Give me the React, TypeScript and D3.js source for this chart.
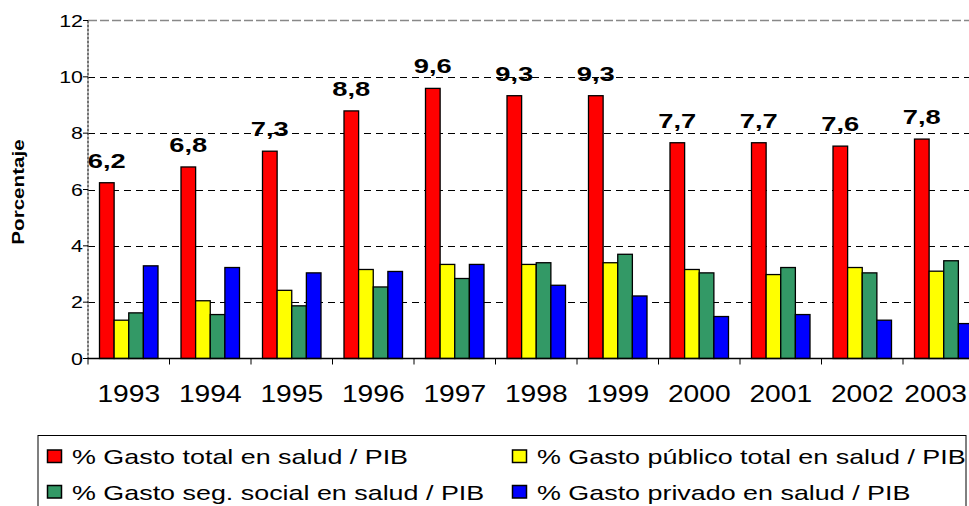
import React, {useEffect, useRef} from 'react';
import * as d3 from 'd3';

// years on the x axis
const years: string[] = ["1993", "1994", "1995", "1996", "1997", "1998", "1999", "2000", "2001", "2002", "2003"];

// series values (percent of GDP)
const gastoTotal: number[] = [6.24, 6.8, 7.36, 8.79, 9.59, 9.33, 9.33, 7.66, 7.66, 7.54, 7.79];
const gastoPublico: number[] = [1.36, 2.05, 2.42, 3.16, 3.34, 3.34, 3.4, 3.16, 2.98, 3.23, 3.1];
const gastoSegSocial: number[] = [1.62, 1.56, 1.87, 2.54, 2.84, 3.4, 3.7, 3.04, 3.23, 3.04, 3.47];
const gastoPrivado: number[] = [3.29, 3.23, 3.04, 3.09, 3.34, 2.6, 2.22, 1.49, 1.56, 1.36, 1.24];

// labels shown above the red bars
const totalLabels: string[] = ["6,2", "6,8", "7,3", "8,8", "9,6", "9,3", "9,3", "7,7", "7,7", "7,6", "7,8"];

const seriesNames: string[] = [
  "% Gasto total en salud / PIB",
  "% Gasto público total en salud / PIB",
  "% Gasto seg. social en salud / PIB",
  "% Gasto privado en salud / PIB",
];

const yTicks: number[] = [0, 2, 4, 6, 8, 10, 12];

const App = () => {
  const ref = useRef<SVGSVGElement | null>(null);

  useEffect(() => {
    drawChart();
    return () => {
      d3.select(ref.current).selectAll("*").remove();
    };
  }, []);

  const drawChart = () => {
    const width = 969;
    const height = 506;
    const font = "'Liberation Sans', Arial, sans-serif";
    const colors = ["#ff0000", "#ffff00", "#339966", "#0000ff"];
    const allSeries = [gastoTotal, gastoPublico, gastoSegSocial, gastoPrivado];

    // plot area (runs a little past the right edge, like the original crop)
    const left = 88;
    const right = 984.5;
    const top = 20.5;
    const bottom = 358.5;

    const svg = d3.select(ref.current)
      .attr("width", width)
      .attr("height", height);

    svg.append("rect").attr("width", width).attr("height", height).attr("fill", "white");

    const x0 = d3.scaleBand<string>().domain(years).range([left, right]);
    const x1 = d3.scaleBand<number>()
      .domain([0, 1, 2, 3])
      .range([11.5, x0.bandwidth() - 11.5]);
    const y = d3.scaleLinear().domain([0, 12]).range([bottom, top]);

    // grid lines
    svg.append("g")
      .selectAll("line")
      .data(yTicks.filter(t => t > 0 && t < 12))
      .enter().append("line")
      .attr("x1", left).attr("x2", right)
      .attr("y1", d => Math.round(y(d)) + 0.5)
      .attr("y2", d => Math.round(y(d)) + 0.5)
      .attr("stroke", "#000")
      .attr("stroke-dasharray", "7,5");

    // top border, grey dashes
    svg.append("line")
      .attr("x1", left).attr("x2", right)
      .attr("y1", y(12)).attr("y2", y(12))
      .attr("stroke", "#888")
      .attr("stroke-width", 1.5)
      .attr("stroke-dasharray", "9,3");

    // bars
    const groups = svg.append("g")
      .selectAll("g")
      .data(years)
      .enter().append("g")
      .attr("transform", d => `translate(${x0(d)},0)`);

    groups.selectAll("rect")
      .data((d, i) => allSeries.map((s, k) => ({k, v: s[i]})))
      .enter().append("rect")
      .attr("x", d => x1(d.k) as number)
      .attr("y", d => y(d.v))
      .attr("width", x1.bandwidth())
      .attr("height", d => y(0) - y(d.v))
      .attr("fill", d => colors[d.k])
      .attr("stroke", "#000")
      .attr("stroke-width", 1.3);

    // value labels above red bars (text is drawn wide, as in the original)
    svg.append("g")
      .selectAll("text")
      .data(years)
      .enter().append("text")
      .attr("transform", (d, i) => {
        const cx = (x0(d) as number) + (x1(0) as number) + x1.bandwidth() / 2;
        return `translate(${cx},${y(gastoTotal[i]) - 15}) scale(1.4,1)`;
      })
      .attr("text-anchor", "middle")
      .attr("font-family", font)
      .attr("font-weight", "bold")
      .attr("font-size", "19.5px")
      .text((d, i) => totalLabels[i]);

    // left axis
    svg.append("line")
      .attr("x1", left).attr("x2", left)
      .attr("y1", top).attr("y2", bottom)
      .attr("stroke", "#444")
      .attr("stroke-width", 1.5)
      .attr("stroke-dasharray", "3,1");

    svg.append("g")
      .selectAll("line")
      .data(yTicks)
      .enter().append("line")
      .attr("x1", left - 5).attr("x2", left)
      .attr("y1", d => y(d)).attr("y2", d => y(d))
      .attr("stroke", "#000");

    svg.append("g")
      .selectAll("text")
      .data(yTicks)
      .enter().append("text")
      .attr("transform", d => `translate(${left - 5},${y(d) + 6}) scale(1.3,1)`)
      .attr("text-anchor", "end")
      .attr("font-family", font)
      .attr("font-size", "16.5px")
      .text(d => d);

    // bottom axis
    svg.append("line")
      .attr("x1", left).attr("x2", right)
      .attr("y1", bottom).attr("y2", bottom)
      .attr("stroke", "#000")
      .attr("stroke-width", 1.3);

    svg.append("g")
      .selectAll("line")
      .data(years)
      .enter().append("line")
      .attr("x1", d => x0(d) as number).attr("x2", d => x0(d) as number)
      .attr("y1", bottom).attr("y2", bottom + 6)
      .attr("stroke", "#000");

    // year labels; the last one is pushed left so it stays inside the picture
    const xScaleText = 1.2;
    svg.append("g")
      .selectAll("text")
      .data(years)
      .enter().append("text")
      .attr("text-anchor", "middle")
      .attr("font-family", font)
      .attr("font-size", "23.5px")
      .text(d => d)
      .each(function (d) {
        const el = this as SVGTextElement;
        const half = el.getComputedTextLength() * xScaleText / 2;
        let cx = (x0(d) as number) + x0.bandwidth() / 2;
        if (cx + half > width - 2) cx = width - 2 - half;
        d3.select(el).attr("transform", `translate(${cx},402) scale(${xScaleText},1)`);
      });

    // y axis title
    svg.append("text")
      .attr("transform", "translate(24,192) rotate(-90) scale(1.25,1)")
      .attr("text-anchor", "middle")
      .attr("font-family", font)
      .attr("font-weight", "bold")
      .attr("font-size", "16.5px")
      .text("Porcentaje");

    // legend box (its bottom is cut off by the picture edge)
    svg.append("rect")
      .attr("x", 38).attr("y", 435.5)
      .attr("width", 928).attr("height", 90)
      .attr("fill", "white")
      .attr("stroke", "#000");

    const legendPos = [
      {x: 47, y: 456},
      {x: 512, y: 456},
      {x: 47, y: 491.5},
      {x: 512, y: 491.5},
    ];

    const legend = svg.append("g")
      .selectAll("g")
      .data(seriesNames)
      .enter().append("g")
      .attr("transform", (d, i) => `translate(${legendPos[i].x},${legendPos[i].y})`);

    legend.append("rect")
      .attr("x", 0.5).attr("y", -6)
      .attr("width", 14).attr("height", 12.5)
      .attr("fill", (d, i) => colors[i])
      .attr("stroke", "#000")
      .attr("stroke-width", 1.5);

    legend.append("text")
      .attr("transform", "translate(25,8) scale(1.28,1)")
      .attr("font-family", font)
      .attr("font-size", "21px")
      .text(d => d);
  };

  return (
    <div style={{position: "absolute", left: 0, top: 0}}>
      <svg ref={ref} style={{display: "block"}}></svg>
    </div>
  );
};

export default App;
